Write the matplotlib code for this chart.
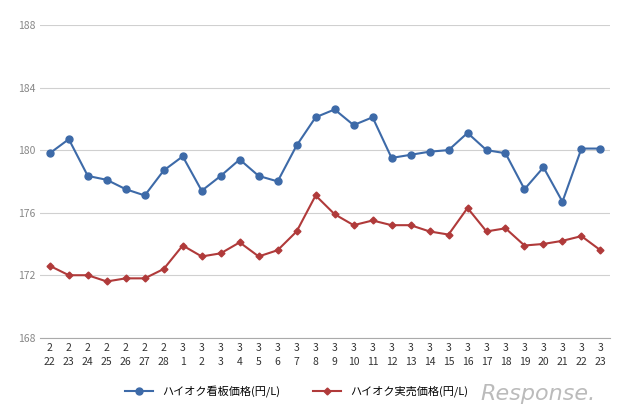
import matplotlib
matplotlib.use("Agg")
import matplotlib.pyplot as plt

months = ["2"]*7 + ["3"]*23
days = [str(d) for d in range(22, 29)] + [str(d) for d in range(1, 24)]
labels = [f"{m}\n{d}" for m, d in zip(months, days)]
signboard = [179.8,180.7,178.35,178.1,177.5,177.1,178.7,179.6,177.4,178.35,179.4,178.35,178.0,180.3,
             182.1,182.6,181.6,182.1,179.5,179.7,179.9,180.0,181.1,180.0,179.8,177.5,178.9,176.7,180.1,180.1]
actual = [172.6,172.0,172.0,171.6,171.8,171.8,172.4,173.9,173.2,173.4,174.1,173.2,173.6,174.8,
          177.1,175.9,175.2,175.5,175.2,175.2,174.8,174.6,176.3,174.8,175.0,173.9,174.0,174.2,174.5,173.6]

plt.rcParams["font.family"] = ["Noto Sans CJK JP"]
fig = plt.figure(figsize=(6.4, 4.17), dpi=100)
ax = fig.add_axes([0.063, 0.19, 0.89, 0.75])
x = range(len(labels))
ax.plot(x, signboard, color="#3d6aa8", marker="o", ms=5, lw=1.5, label="ハイオク看板価格(円/L)")
ax.plot(x, actual, color="#b03a3a", marker="D", ms=3.5, lw=1.5, label="ハイオク実売価格(円/L)")
ax.set_ylim(168, 188)
ax.set_yticks([168,172,176,180,184,188])
ax.set_xlim(-0.5, len(labels)-0.5)
ax.set_xticks(list(x))
ax.set_xticklabels(labels, fontsize=7.5, color="#333333", linespacing=1.4)
ax.tick_params(axis="y", labelsize=7.5, colors="#888888", length=0)
ax.tick_params(axis="x", length=0, pad=4)
ax.grid(axis="y", color="#d0d0d0", lw=0.8)
for s in ["top","right","left"]:
    ax.spines[s].set_visible(False)
ax.spines["bottom"].set_color("#aaaaaa")
ax.legend(loc="upper center", bbox_to_anchor=(0.45, -0.12), ncol=2, frameon=False, fontsize=8, handlelength=2.5, columnspacing=3)
fig.text(0.93, 0.04, "Response.", fontsize=16, color="#bbbbbb", ha="right", style="italic", fontfamily="DejaVu Sans")
fig.savefig("out.png", dpi=100)
